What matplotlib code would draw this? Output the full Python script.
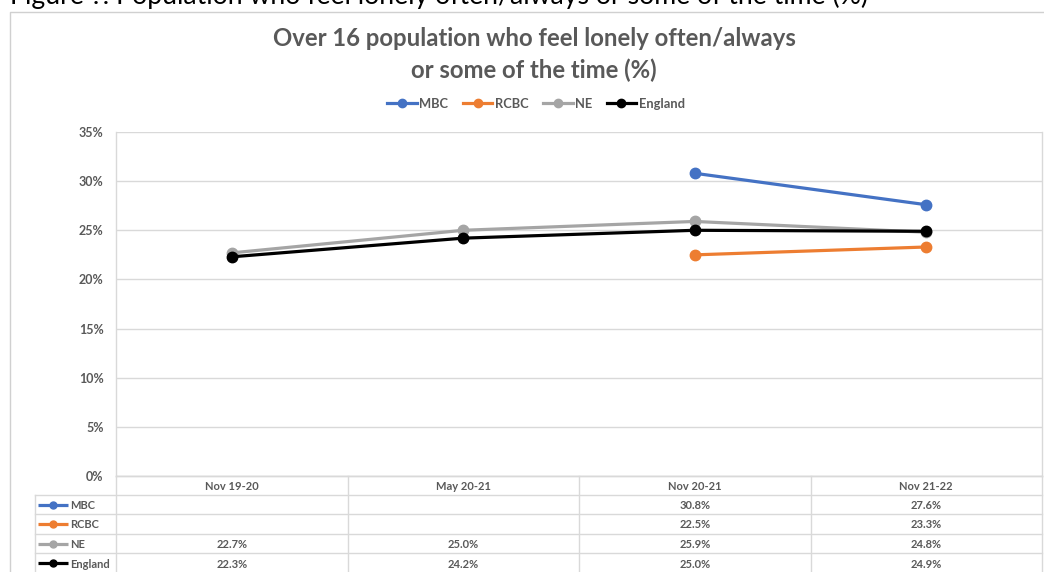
import numpy as np
import matplotlib
matplotlib.use("Agg")
import matplotlib.pyplot as plt
from matplotlib.lines import Line2D
from matplotlib.transforms import blended_transform_factory
from matplotlib.ticker import FuncFormatter

categories = ["Nov 19-20", "May 20-21", "Nov 20-21", "Nov 21-22"]
series_names = ["MBC", "RCBC", "NE", "England"]
mbc = [np.nan, np.nan, 30.8, 27.6]
rcbc = [np.nan, np.nan, 22.5, 23.3]
ne = [22.7, 25.0, 25.9, 24.8]
england = [22.3, 24.2, 25.0, 24.9]
colors = ["#4472C4", "#ED7D31", "#A5A5A5", "#000000"]
yticks = [0, 5, 10, 15, 20, 25, 30, 35]

title_lines = ["Over 16 population who feel lonely often/always", "or some of the time (%)"]
caption = "Figure ?: Population who feel lonely often/always or some of the time (%)"

W, H = 1044, 572
plt.rcParams['font.family'] = ['Lato', 'DejaVu Sans']
fig = plt.figure(figsize=(W / 100, H / 100), dpi=100)
fig.patch.set_facecolor("white")

# overlay in pixel coordinates
ov = fig.add_axes([0, 0, 1, 1], zorder=0)
ov.set_xlim(0, W)
ov.set_ylim(H, 0)
ov.axis("off")

txt = "#595959"
grid = "#D9D9D9"

# chart frame
ov.plot([10, 10, W + 5], [H + 5, 12, 12], color="#D0D0D0", lw=1.0)

# caption (clipped at top as in the source)
ov.text(10, 4, caption, fontsize=19.2, color="black", ha="left", va="baseline")

# main axes
pl, pr, pt, pb = 116, 1042, 132, 476
ax = fig.add_axes([pl / W, 1 - pb / H, (pr - pl) / W, (pb - pt) / H], zorder=2)
ax.patch.set_alpha(0)
ax.set_xlim(-0.5, len(categories) - 0.5)
ax.set_ylim(0, 35)
ax.set_yticks(yticks)
ax.yaxis.set_major_formatter(FuncFormatter(lambda v, p: f"{int(v)}%"))
ax.set_xticks([])
ax.tick_params(axis="y", length=0, pad=9, labelsize=9, labelcolor=txt)
for lab in ax.get_yticklabels():
    lab.set_fontweight("bold")
ax.grid(axis="y", color=grid, lw=1.0)
ax.set_axisbelow(True)
for s in ["left", "right", "bottom"]:
    ax.spines[s].set_color(grid)
    ax.spines[s].set_linewidth(1.0)
ax.spines["top"].set_visible(False)

data = [mbc, rcbc, ne, england]
x = np.arange(len(categories))
order = [2, 3, 0, 1]
for i in order:
    ax.plot(x, data[i], color=colors[i], lw=2.3, marker="o", ms=7.5,
            solid_capstyle="round", zorder=3 + i)

# title
for yy, line in zip([39, 70], title_lines):
    ov.text(534, yy, line, ha="center", va="center", fontsize=17.2,
            fontweight="bold", color=txt)

# legend
handles = [Line2D([0], [0], color=c, lw=2.3, marker="o", ms=6) for c in colors]
leg = fig.legend(handles, series_names, loc="center", bbox_to_anchor=(536 / W, 1 - 104 / H),
                 ncol=4, frameon=False, fontsize=9.3, handlelength=2.3, handletextpad=0.2,
                 columnspacing=1.1, labelcolor=txt)
for t in leg.get_texts():
    t.set_fontweight("bold")

# data table
bt = blended_transform_factory(ax.transData, ov.transData)
row_edges = [476, 495, 514, 534, 553, 573]
tl = 35
for j, yv in enumerate(row_edges):
    x0 = tl if j >= 1 else pl
    ov.plot([x0, pr], [yv, yv], color=grid, lw=1.0)
ov.plot([tl, tl], [row_edges[1], H + 2], color=grid, lw=1.0)
ov.plot([pl, pl], [row_edges[0], H + 2], color=grid, lw=1.0)
for k in range(1, len(categories) + 1):
    ax_x = k - 0.5
    ov.plot([ax_x, ax_x], [row_edges[0], H + 2], color=grid, lw=1.0, transform=bt)

for k, c in enumerate(categories):
    ov.text(k, (row_edges[0] + row_edges[1]) / 2 + 0.5, c, transform=bt, ha="center",
            va="center_baseline", fontsize=8, color=txt, fontweight="bold")

for r, (name, vals, col) in enumerate(zip(series_names, data, colors)):
    yc = (row_edges[r + 1] + row_edges[r + 2]) / 2
    ov.plot([38, 68], [yc, yc], color=col, lw=2.3, solid_capstyle="butt")
    ov.plot([53], [yc], color=col, marker="o", ms=5)
    ov.text(70, yc, name, ha="left", va="center_baseline", fontsize=8, color=txt,
            fontweight="bold")
    for k, v in enumerate(vals):
        if not np.isnan(v):
            ov.text(k, yc, f"{v:.1f}%", transform=bt, ha="center", va="center_baseline",
                    fontsize=8, color=txt, fontweight="bold")

fig.savefig("out.png", dpi=100, facecolor="white")
